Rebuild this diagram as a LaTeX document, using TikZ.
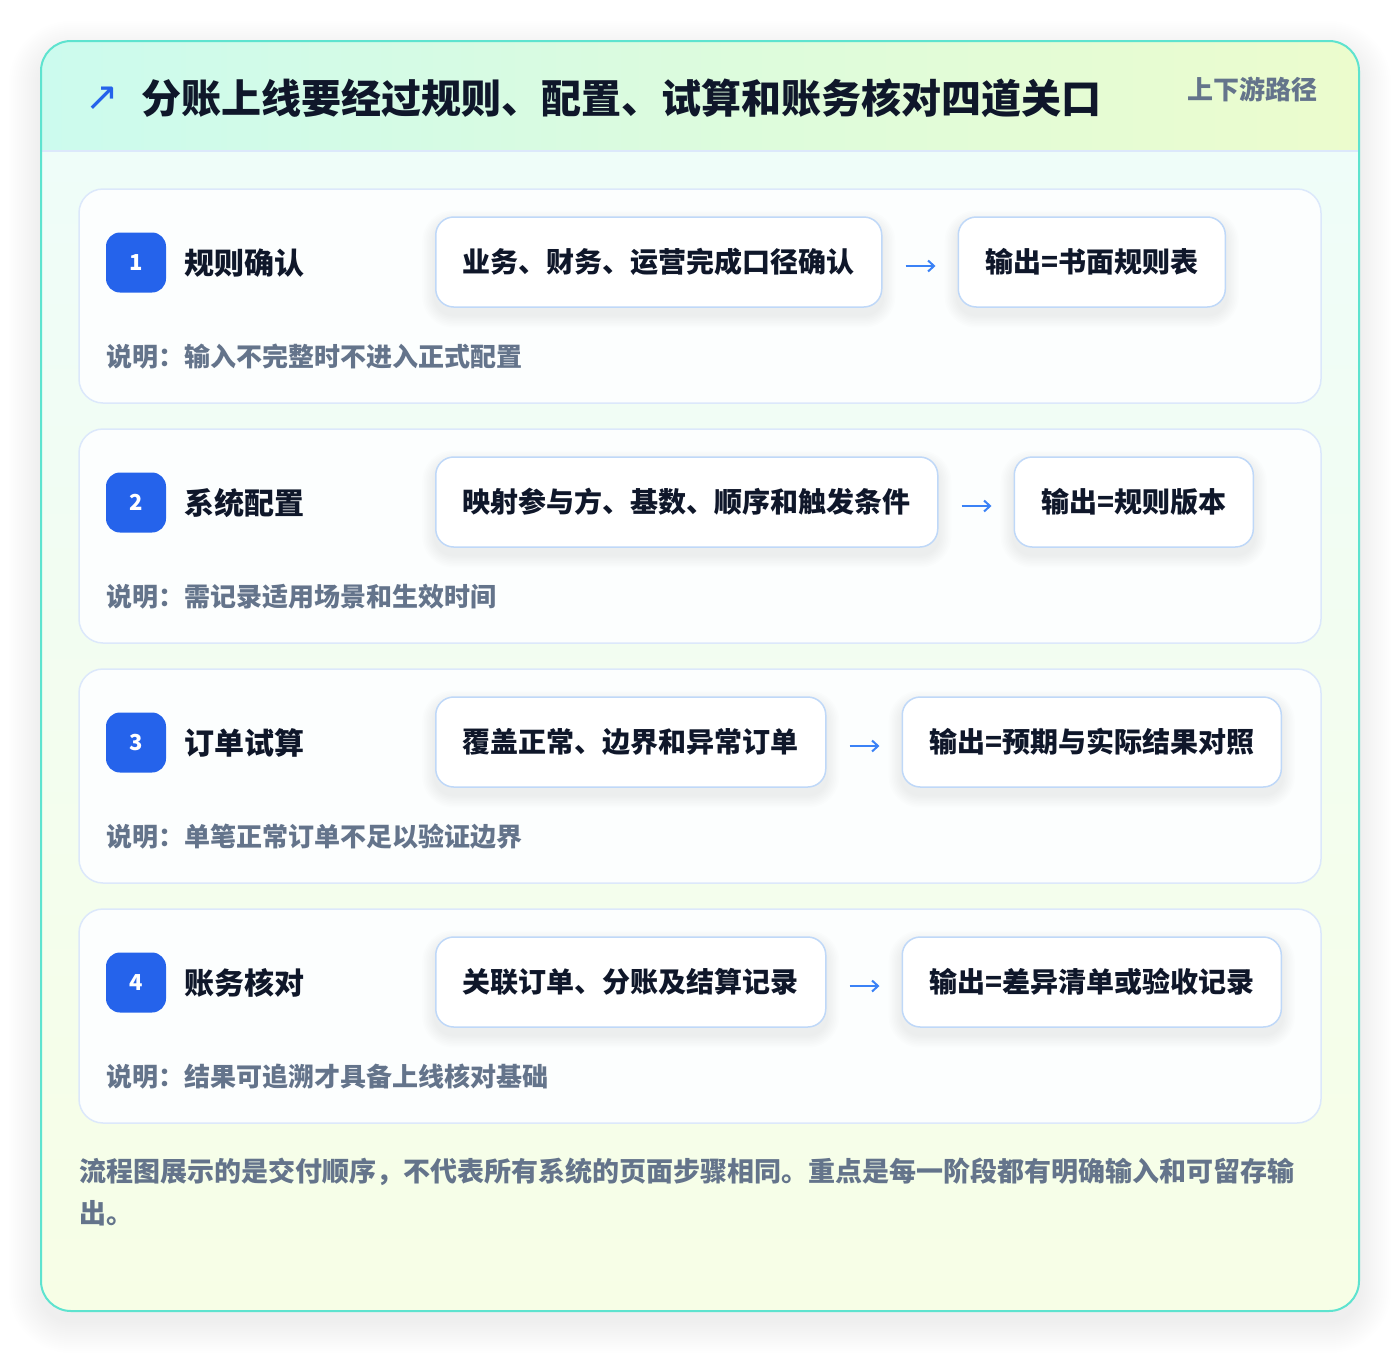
\documentclass[tikz,border=0pt]{standalone}
\usepackage{fontspec}
\setmainfont{Noto Sans CJK SC}
\newfontfamily\symfont{DejaVu Sans}
\usetikzlibrary{arrows.meta,calc}
\definecolor{ink}{HTML}{0F172A}
\definecolor{muted}{HTML}{64748B}
\definecolor{badgeblue}{HTML}{2563EB}
\definecolor{arrowblue}{HTML}{3B82F6}
\definecolor{tealborder}{HTML}{5EE3CF}
\definecolor{hdrL}{HTML}{CCFBEE}
\definecolor{hdrR}{HTML}{ECFCCD}
\definecolor{bodyT}{HTML}{EFFDF9}
\definecolor{bodyB}{HTML}{F7FEE6}
\definecolor{cardborder}{HTML}{DCE8FB}
\definecolor{boxborder}{HTML}{BFD8F8}
\definecolor{cardfill}{HTML}{FCFEFE}
\pgfdeclarelayer{bg}
\pgfdeclarelayer{shadow}
\pgfsetlayers{bg,shadow,main}
\begin{document}
\begin{tikzpicture}[x=1pt,y=-1pt,
  card/.style={draw=cardborder, line width=1.5pt, fill=cardfill, rounded corners=24pt},
  badge/.style={fill=badgeblue, rounded corners=14pt, minimum width=60pt, minimum height=60pt, inner sep=0pt,
    text=white, font=\bfseries\fontsize{22}{24}\selectfont},
  steptitle/.style={anchor=west, inner sep=0pt, text=ink, font=\bfseries\fontsize{30}{34}\selectfont},
  flowbox/.style={draw=boxborder, line width=1.5pt, fill=white, rounded corners=18pt,
    minimum height=90pt, inner xsep=27pt, text=ink, font=\bfseries\fontsize{28}{32}\selectfont},
  note/.style={anchor=west, inner sep=0pt, text=muted, font=\bfseries\fontsize{26}{30}\selectfont},
  flow/.style={draw=arrowblue, line width=2pt, -{Straight Barb[length=6pt,width=11pt]}, shorten <=23pt, shorten >=22pt},
  shadowring/.style={fill=black, opacity=#1},
]
\useasboundingbox (0,0) rectangle (1400,1352);
\begin{pgfonlayer}{bg}
\fill[white] (0,0) rectangle (1400,1352);
% outer card soft shadow
\foreach \k in {1,...,16}{
  \pgfmathsetmacro{\rr}{30+2*\k}
  \fill[shadowring=0.0045, rounded corners=\rr pt] (41-2*\k,41-2*\k+12) rectangle (1359+2*\k,1311+2*\k+10);
}
\fill[white, rounded corners=30pt] (41,41) rectangle (1359,1311);
\begin{scope}
  \clip[rounded corners=30pt] (41,41) rectangle (1359,1311);
  \shade[left color=hdrL, right color=hdrR] (41,41) rectangle (1359,151);
  \shade[top color=bodyT, bottom color=bodyB] (41,151) rectangle (1359,1311);
\end{scope}
\draw[cardborder, line width=1.5pt] (41,151) -- (1359,151);
\draw[tealborder, line width=2pt, rounded corners=30pt] (41,41) rectangle (1359,1311);
\foreach \i in {1,...,4}{
  \pgfmathsetmacro{\top}{189+240*(\i-1)}
  \path[card] (79,\top) rectangle (1321,\top+214);
}
\end{pgfonlayer}

% header
\node[text=badgeblue, font=\symfont\fontsize{40}{42}\selectfont, inner sep=0pt] (icon) at (102,99) {↗};
\node[anchor=west, inner sep=0pt, text=ink, font=\bfseries\fontsize{40}{46}\selectfont] (title) at (141,98)
  {分账上线要经过规则、配置、试算和账务核对四道关口};
\node[anchor=east, inner sep=0pt, text=muted, font=\bfseries\fontsize{26}{30}\selectfont] (sub) at (1318,89) {上下游路径};

% steps
\foreach \i/\t/\a/\b/\n in {
  1/规则确认/业务、财务、运营完成口径确认/输出=书面规则表/说明：输入不完整时不进入正式配置,
  2/系统配置/映射参与方、基数、顺序和触发条件/输出=规则版本/说明：需记录适用场景和生效时间,
  3/订单试算/覆盖正常、边界和异常订单/输出=预期与实际结果对照/说明：单笔正常订单不足以验证边界,
  4/账务核对/关联订单、分账及结算记录/输出=差异清单或验收记录/说明：结果可追溯才具备上线核对基础}
{
  \pgfmathsetmacro{\top}{189+240*(\i-1)}
  \node[badge] (badge\i) at (136,\top+73.5) {\i};
  \node[steptitle] (st\i) at (184,\top+74) {\t};
  \node[flowbox, anchor=west] (in\i) at (435,\top+73) {\a};
  \node[flowbox, anchor=west] (out\i) at ([xshift=75pt]in\i.east) {\b};
  \begin{pgfonlayer}{shadow}
    \foreach \nd in {in\i,out\i}{
      \foreach \k in {1,...,8}{
        \pgfmathsetmacro{\rr}{18+1.6*\k}
        \fill[shadowring=0.007, rounded corners=\rr pt]
          ($(\nd.north west)+(-1.6*\k,-1.6*\k+7)$) rectangle ($(\nd.south east)+(1.6*\k,1.6*\k+7)$);
      }
    }
  \end{pgfonlayer}
  \draw[flow] ([yshift=-4pt]in\i.east) -- ([yshift=-4pt]out\i.west);
  \node[note] (note\i) at (106,\top+168) {\n};
}

% footer
\node[anchor=north west, inner sep=0pt, text=muted, align=left,
  font=\bfseries\fontsize{27}{42}\selectfont] (foot) at (79,1158)
  {流程图展示的是交付顺序，不代表所有系统的页面步骤相同。重点是每一阶段都有明确输入和可留存输\\出。};
\end{tikzpicture}
\end{document}
